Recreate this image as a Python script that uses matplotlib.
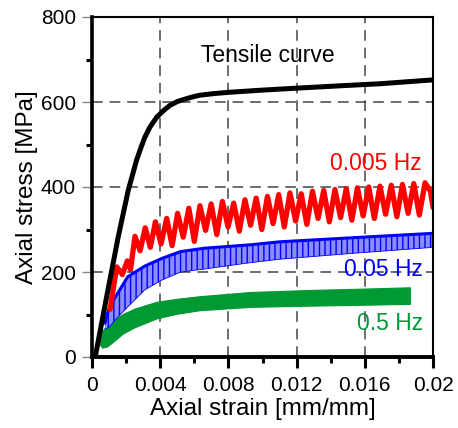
import matplotlib
matplotlib.use("Agg")
import matplotlib.pyplot as plt
import numpy as np

plt.rcParams['font.family'] = ['Liberation Sans', 'DejaVu Sans']
plt.rcParams['hatch.linewidth'] = 1.0

# ---- data ----
tensile_strain = [0.00018, 0.00023, 0.00086, 0.00154, 0.00213, 0.0024, 0.00262, 0.0029, 0.00311,
                  0.0034, 0.00379, 0.0042, 0.00457, 0.0050, 0.00555, 0.0060, 0.00633, 0.0072,
                  0.0081, 0.0100, 0.0122, 0.0145, 0.0169, 0.0200]
tensile_stress = [0, 9, 142, 283, 393, 432, 464, 496, 518,
                  541, 564, 580, 592, 601, 608, 613, 616, 620,
                  623, 628, 633, 638, 643, 652]

red_strain = [0.00106, 0.00145, 0.00178, 0.00207, 0.00226, 0.00252, 0.00282, 0.00312, 0.00342,
              0.00372, 0.00405, 0.00438, 0.00470, 0.00502, 0.00535, 0.00568, 0.00600, 0.00633,
              0.00666, 0.00699, 0.00732, 0.00765, 0.00798, 0.00831, 0.00864, 0.00897, 0.00930,
              0.00963, 0.00996, 0.01029, 0.01062, 0.01095, 0.01128, 0.01161, 0.01194, 0.01227,
              0.01260, 0.01293, 0.01326, 0.01359, 0.01392, 0.01425, 0.01458, 0.01491, 0.01524,
              0.01557, 0.01590, 0.01623, 0.01656, 0.01689, 0.01722, 0.01755, 0.01788, 0.01821,
              0.01854, 0.01887, 0.01920, 0.01953, 0.01985, 0.02000]
red_stress = [112, 212, 194, 226, 206, 284, 250, 304, 258,
              318, 266, 326, 262, 338, 282, 350, 272, 356,
              298, 360, 288, 366, 306, 362, 296, 370, 310,
              374, 300, 378, 314, 382, 306, 386, 320, 384,
              312, 390, 326, 392, 318, 394, 328, 396, 322,
              398, 332, 400, 326, 402, 336, 404, 330, 406,
              338, 408, 334, 410, 390, 352]

blue_strain = [0.00076, 0.00100, 0.00135, 0.0021, 0.0031, 0.0041, 0.0052, 0.0066, 0.0093, 0.0110, 0.0150, 0.0200]
blue_upper = [80, 115, 140, 189, 214, 232, 248, 256, 264, 271, 280, 291]
blue_lower = [66, 70, 87, 118, 158, 181, 200, 207, 222, 230, 243, 258]

green_strain = [0.00045, 0.0006, 0.0009, 0.0013, 0.0018, 0.0025, 0.0038, 0.0050, 0.0063, 0.0093, 0.0130, 0.0160, 0.01865]
green_upper = [52, 62, 74, 88, 101, 114, 130, 137, 143, 153, 158, 161, 164]
green_lower = [30, 22, 25, 38, 55, 70, 91, 102, 110, 118, 121, 123, 125]

x_ticks = [0, 0.004, 0.008, 0.012, 0.016, 0.02]
x_tick_labels = ["0", "0.004", "0.008", "0.012", "0.016", "0.02"]
y_ticks = [0, 200, 400, 600, 800]
y_tick_labels = ["0", "200", "400", "600", "800"]

# ---- figure ----
fig = plt.figure(figsize=(4.58, 4.28), dpi=100)
ax = fig.add_axes([92/458, 1-357/428, 341/458, 340/428])

ax.set_xlim(0, 0.02)
ax.set_ylim(0, 800)

# grid
for gx in x_ticks[1:-1]:
    ax.axvline(gx, color='#444444', lw=1.1, dashes=(7, 4.5), zorder=1)
for gy in y_ticks[1:-1]:
    ax.axhline(gy, color='#444444', lw=1.1, dashes=(7, 4.5), zorder=1)

green = '#009933'
ax.fill_between(green_strain, green_lower, green_upper, color=green, lw=0.8, ec=green, zorder=2)
ax.fill_between(blue_strain, blue_lower, blue_upper, facecolor='#8c8cff', edgecolor='#0000ff',
                hatch='|||', lw=0, zorder=3)
ax.plot(blue_strain, blue_upper, color='#0000ff', lw=2.2, zorder=3)
ax.plot(blue_strain, blue_lower, color='#0000ff', lw=0.6, zorder=3)
ax.plot(red_strain, red_stress, color='#ff0000', lw=3.8, solid_joinstyle='round',
        solid_capstyle='round', zorder=4)
ax.plot(tensile_strain, tensile_stress, color='black', lw=3.6, solid_capstyle='butt',
        solid_joinstyle='round', zorder=5)

# annotations
fs = 16.5
ax.text(0.01425, 710, "Tensile curve", color='black', fontsize=fs, ha='right', va='center')
ax.text(0.01935, 456, "0.005 Hz", color='#ff0000', fontsize=fs, ha='right', va='center')
ax.text(0.01941, 205, "0.05 Hz", color='#0000ff', fontsize=fs, ha='right', va='center')
ax.text(0.01941, 80, "0.5 Hz", color=green, fontsize=fs, ha='right', va='center')

# ticks
ax.set_xticks(x_ticks)
ax.set_xticklabels(x_tick_labels)
ax.set_xticks([0.002, 0.006, 0.010, 0.014, 0.018], minor=True)
ax.set_yticks(y_ticks)
ax.set_yticklabels(y_tick_labels)
ax.set_yticks([100, 300, 500, 700], minor=True)

ax.tick_params(axis='x', which='major', direction='out', length=8, width=2.2, color='black',
               labelsize=15, pad=6, top=False)
ax.tick_params(axis='x', which='minor', direction='out', length=4, width=2.2, color='black', top=False)
ax.tick_params(axis='y', which='major', direction='out', length=7.5, width=1.0, color='#888888',
               labelsize=15, pad=4, labelcolor='black', right=False)
ax.tick_params(axis='y', which='minor', direction='out', length=4, width=2.2, color='black', right=False)

for side, w in [('left', 2.6), ('bottom', 2.8), ('top', 1.5), ('right', 1.5)]:
    ax.spines[side].set_linewidth(w)
    ax.spines[side].set_color('black')
    ax.spines[side].set_zorder(6)

ax.set_xlabel("Axial strain [mm/mm]", fontsize=17.5, labelpad=2)
ax.set_ylabel("Axial stress [MPa]", fontsize=17.5, labelpad=2)

fig.savefig("out.png", dpi=100)
